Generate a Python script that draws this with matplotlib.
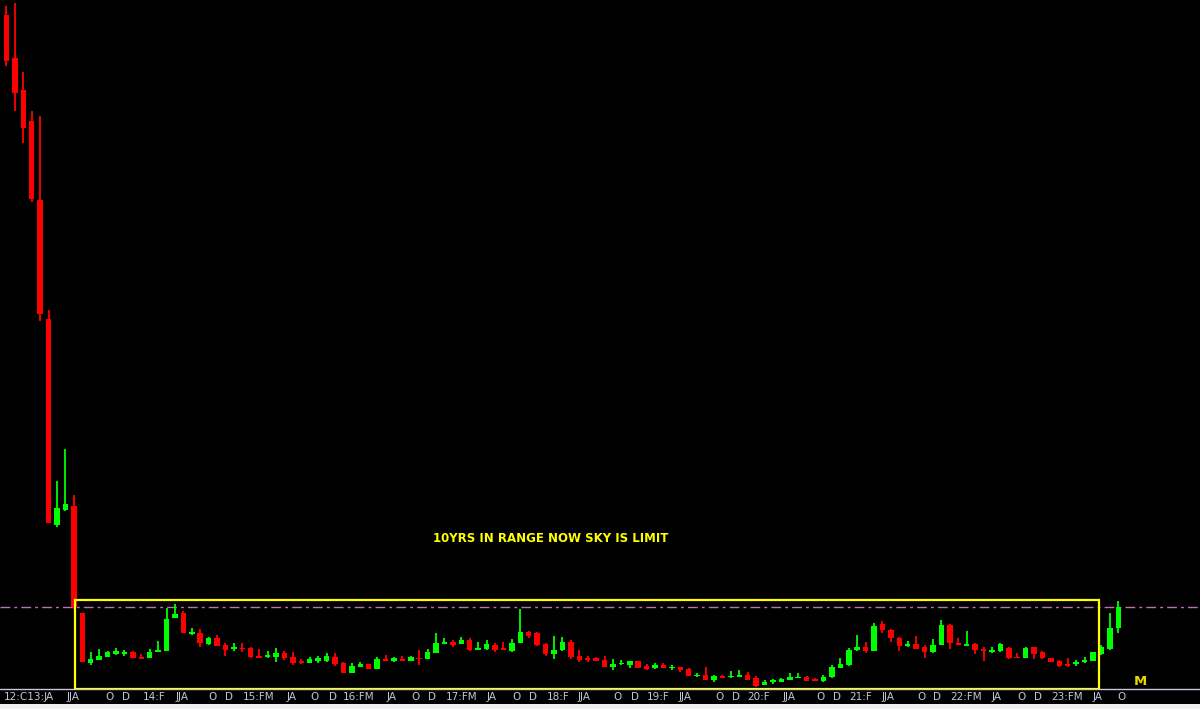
import numpy as np
import matplotlib
matplotlib.use('Agg')
import matplotlib.pyplot as plt
from matplotlib.patches import Rectangle

# Monthly candles (price units)
opens = [674, 631, 599, 568, 489, 370, 164, 179, 183, 76,
         26, 29, 32, 35, 35, 37, 32, 31, 37, 38,
         71, 76, 55, 56, 45, 51, 44, 40, 41, 41,
         33, 32, 32, 36, 32, 28, 26, 28, 28, 32,
         26, 16, 22, 25, 20, 30, 28, 30, 28, 31,
         30, 36, 45, 47, 45, 49, 39, 40, 44, 41,
         38, 46, 57, 56, 45, 35, 39, 47, 33, 31,
         31, 29, 22, 25, 24, 28, 23, 21, 24, 21,
         22, 20, 13, 14, 9, 13, 12, 12, 14, 11,
         4, 7, 7, 9, 11, 12, 10, 8, 12, 21,
         24, 39, 42, 38, 65, 59, 51, 43, 45, 42,
         37, 44, 64, 46, 43, 45, 40, 37, 38, 41,
         32, 31, 42, 37, 31, 28, 25, 25, 27, 28,
         35, 40, 61]
highs = [683, 686, 617, 578, 573, 379, 208, 240, 194, 76,
         37, 40, 38, 41, 39, 38, 35, 40, 48, 81,
         85, 78, 61, 60, 52, 54, 46, 46, 46, 42,
         40, 38, 41, 38, 37, 30, 32, 33, 36, 36,
         27, 26, 27, 25, 32, 34, 32, 33, 33, 39,
         40, 56, 51, 49, 52, 51, 47, 49, 46, 47,
         50, 80, 58, 57, 46, 53, 52, 49, 39, 33,
         32, 33, 30, 29, 28, 28, 25, 26, 26, 24,
         22, 21, 16, 22, 14, 14, 18, 19, 17, 13,
         9, 10, 11, 16, 16, 13, 11, 14, 24, 31,
         41, 54, 47, 66, 68, 60, 52, 48, 53, 44,
         50, 69, 65, 51, 58, 46, 42, 42, 46, 42,
         36, 42, 42, 38, 31, 29, 31, 29, 32, 37,
         44, 76, 88]
lows = [623, 578, 546, 487, 368, 166, 162, 178, 80, 27,
        24, 29, 32, 34, 33, 31, 30, 31, 37, 38,
        71, 56, 54, 42, 44, 43, 33, 38, 37, 31,
        31, 31, 27, 29, 24, 25, 26, 26, 27, 23,
        16, 16, 22, 20, 20, 28, 27, 28, 28, 24,
        30, 36, 45, 42, 45, 38, 39, 39, 37, 39,
        37, 46, 51, 43, 33, 30, 38, 30, 27, 27,
        28, 22, 19, 24, 21, 21, 19, 20, 21, 19,
        17, 13, 12, 9, 7, 11, 11, 12, 9, 2,
        4, 5, 7, 9, 11, 8, 8, 7, 11, 21,
        23, 38, 36, 38, 56, 47, 38, 42, 40, 31,
        36, 44, 40, 44, 43, 35, 28, 36, 37, 30,
        31, 31, 30, 30, 27, 22, 22, 23, 26, 28,
        34, 39, 56]
closes = [628, 596, 561, 490, 375, 166, 181, 185, 82, 27,
          30, 33, 37, 38, 37, 31, 30, 37, 39, 70,
          75, 56, 57, 46, 51, 43, 39, 42, 40, 32,
          31, 34, 36, 31, 26, 26, 30, 31, 33, 25,
          16, 23, 25, 20, 30, 28, 31, 28, 32, 30,
          37, 46, 47, 44, 49, 39, 41, 45, 39, 39,
          46, 57, 53, 44, 35, 39, 47, 32, 29, 29,
          28, 22, 25, 26, 28, 21, 20, 24, 21, 22,
          19, 13, 14, 9, 13, 11, 13, 14, 9, 3,
          7, 9, 10, 12, 12, 8, 8, 12, 22, 25,
          39, 42, 38, 63, 59, 51, 43, 45, 40, 37,
          44, 64, 46, 44, 45, 39, 38, 39, 45, 31,
          31, 41, 35, 31, 27, 23, 23, 27, 29, 37,
          42, 61, 82]

# x-axis labels (MT4 style) and the candle they start at
label_text = ['12:C13:J', 'A', 'JJA', 'O', 'D', '14:F', 'JJA', 'O', 'D',
              '15:FM', 'JA', 'O', 'D', '16:FM', 'JA', 'O', 'D', '17:FM', 'JA',
              'O', 'D', '18:F', 'JJA', 'O', 'D', '19:F', 'JJA', 'O', 'D',
              '20:F', 'JJA', 'O', 'D', '21:F', 'JJA', 'O', 'D', '22:FM', 'JA',
              'O', 'D', '23:FM', 'JA', 'O']
label_idx = [0, 5, 7.4, 12, 14, 16.5, 20.4, 24.3, 26.3,
             28.3, 33.6, 36.4, 38.6, 40.2, 45.4, 48.4, 50.3, 52.4, 57.3,
             60.4, 62.3, 64.5, 68.1, 72.4, 74.4, 76.3, 80.1, 84.5, 86.4,
             88.3, 92.4, 96.4, 98.4, 100.3, 104.2, 108.4, 110.3, 112.3, 117.3,
             120.3, 122.3, 124.3, 129.3, 132.2]

resistance = 82          # dash-dot level
range_start, range_end = 8.1, 129.7   # candle span of the 10yr range box
range_top = 89

o = np.array(opens)
h = np.array(highs)
l = np.array(lows)
c = np.array(closes)
x = np.arange(len(o))
up = c >= o
colors = np.where(up, '#00ff00', '#ff0000')

fig = plt.figure(figsize=(12, 7.09), dpi=100, facecolor='black')
ax = fig.add_axes([0, 20 / 709, 1, 689 / 709])
ax.set_facecolor('black')

# wicks
ax.vlines(x, l, h, colors=colors, linewidth=1.3, zorder=2)
# bodies
body_lo = np.minimum(o, c)
body_h = np.maximum(np.abs(c - o), 1)
ax.bar(x, body_h, bottom=body_lo, width=0.65, color=colors, linewidth=0, zorder=3)

# level line and range box
ax.axhline(resistance, color='#c070b0', linewidth=1, linestyle=(0, (7, 3, 2, 3)), zorder=1)
ax.add_patch(Rectangle((range_start, 0.5), range_end - range_start, range_top - 0.5,
                       fill=False, edgecolor='#ffff00', linewidth=1.6, zorder=4))

ax.text(64.6, 151, '10YRS IN RANGE NOW SKY IS LIMIT', color='#ffff00', fontsize=8.5,
        fontweight='bold', ha='center', va='center')
ax.text(134.6, 1, 'M', color='#e8d800', fontsize=9.5, fontweight='bold', ha='center', va='bottom')

ax.set_xlim(-0.77, 141.7)
ax.set_ylim(0, 689)

ax.set_xticks(np.array(label_idx) - 0.3)
ax.set_xticklabels(label_text, ha='left', color='#c0c8d8', fontsize=7.5)
ax.tick_params(axis='x', length=0, pad=2)
ax.set_yticks([])
for s in ['top', 'right', 'left']:
    ax.spines[s].set_visible(False)
ax.spines['bottom'].set_color('#c8c8dc')
ax.spines['bottom'].set_linewidth(1)

# light strip along the very bottom
fig.patches.append(Rectangle((0, 0), 1, 5 / 709, transform=fig.transFigure,
                             facecolor='#f0f0f0', edgecolor='none', zorder=0))

fig.savefig('out.png', dpi=100, facecolor='black')
